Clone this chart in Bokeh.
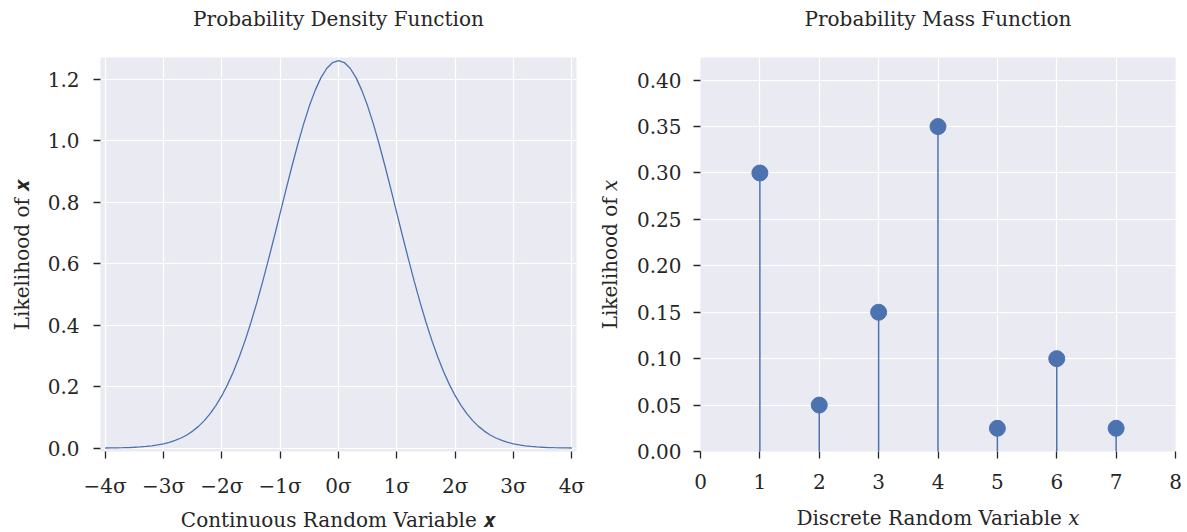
from bokeh.plotting import figure
from bokeh.layouts import row
from bokeh.models import FixedTicker, Range1d
from bokeh.embed import file_html
from bokeh.resources import INLINE

# ---- data ----
pdf_x = [-4.0, -3.9, -3.8, -3.7, -3.6, -3.5, -3.4, -3.3, -3.2, -3.1,
         -3.0, -2.9, -2.8, -2.7, -2.6, -2.5, -2.4, -2.3, -2.2, -2.1,
         -2.0, -1.9, -1.8, -1.7, -1.6, -1.5, -1.4, -1.3, -1.2, -1.1,
         -1.0, -0.9, -0.8, -0.7, -0.6, -0.5, -0.4, -0.3, -0.2, -0.1,
         0.0, 0.1, 0.2, 0.3, 0.4, 0.5, 0.6, 0.7, 0.8, 0.9,
         1.0, 1.1, 1.2, 1.3, 1.4, 1.5, 1.6, 1.7, 1.8, 1.9,
         2.0, 2.1, 2.2, 2.3, 2.4, 2.5, 2.6, 2.7, 2.8, 2.9,
         3.0, 3.1, 3.2, 3.3, 3.4, 3.5, 3.6, 3.7, 3.8, 3.9, 4.0]
pdf_y = [0.0004, 0.0006, 0.0009, 0.0013, 0.0019, 0.0028, 0.0039, 0.0054, 0.0075, 0.0103,
         0.0140, 0.0188, 0.0249, 0.0329, 0.0428, 0.0553, 0.0707, 0.0895, 0.1120, 0.1390,
         0.1705, 0.2072, 0.2494, 0.2970, 0.3503, 0.4091, 0.4729, 0.5413, 0.6134, 0.6881,
         0.7642, 0.8404, 0.9149, 0.9862, 1.0525, 1.1120, 1.1631, 1.2046, 1.2351, 1.2537,
         1.2600, 1.2537, 1.2351, 1.2046, 1.1631, 1.1120, 1.0525, 0.9862, 0.9149, 0.8404,
         0.7642, 0.6881, 0.6134, 0.5413, 0.4729, 0.4091, 0.3503, 0.2970, 0.2494, 0.2072,
         0.1705, 0.1390, 0.1120, 0.0895, 0.0707, 0.0553, 0.0428, 0.0329, 0.0249, 0.0188,
         0.0140, 0.0103, 0.0075, 0.0054, 0.0039, 0.0028, 0.0019, 0.0013, 0.0009, 0.0006, 0.0004]
pdf_xticks = [-4, -3, -2, -1, 0, 1, 2, 3, 4]
pdf_xlabels = ["\u22124\u03c3", "\u22123\u03c3", "\u22122\u03c3", "\u22121\u03c3", "0\u03c3",
               "1\u03c3", "2\u03c3", "3\u03c3", "4\u03c3"]
pdf_yticks = [0.0, 0.2, 0.4, 0.6, 0.8, 1.0, 1.2]
pdf_ylabels = ["0.0", "0.2", "0.4", "0.6", "0.8", "1.0", "1.2"]

pmf_x = [1, 2, 3, 4, 5, 6, 7]
pmf_y = [0.30, 0.05, 0.15, 0.35, 0.025, 0.10, 0.025]
pmf_xticks = [0, 1, 2, 3, 4, 5, 6, 7, 8]
pmf_yticks = [0.00, 0.05, 0.10, 0.15, 0.20, 0.25, 0.30, 0.35, 0.40]
pmf_ylabels = ["0.00", "0.05", "0.10", "0.15", "0.20", "0.25", "0.30", "0.35", "0.40"]

FONT = "DejaVu Serif"
FS = "20px"
BLUE = "#4c72b0"
BG = "#eaeaf2"
TXT = "#262626"
FH = 394


def style(p, title):
    p.background_fill_color = BG
    p.border_fill_color = "white"
    p.outline_line_color = None
    # trailing blank line lifts the title away from the frame
    p.title.text = title + "\n\u00a0"
    p.title.align = "center"
    p.title.text_font = FONT
    p.title.text_font_size = FS
    p.title.text_font_style = "normal"
    p.title.text_color = TXT
    p.title.standoff = 6
    for g in (p.xgrid, p.ygrid):
        g.grid_line_color = "white"
        g.grid_line_width = 1.2
    for ax in (p.xaxis, p.yaxis):
        ax.axis_line_color = None
        ax.major_tick_line_color = TXT
        ax.major_tick_line_width = 1.3
        ax.major_tick_out = 7
        ax.major_tick_in = 0
        ax.minor_tick_line_color = None
        ax.major_label_text_font = FONT
        ax.major_label_text_font_size = FS
        ax.major_label_text_color = TXT
        ax.axis_label_text_font = FONT
        ax.axis_label_text_font_size = FS
        ax.axis_label_text_font_style = "normal"
        ax.axis_label_text_color = TXT
    p.xaxis.major_label_standoff = 15


p1 = figure(frame_width=476, frame_height=FH, output_backend="svg", toolbar_location=None,
            x_range=Range1d(-4.08, 4.08), y_range=Range1d(-0.011, 1.27),
            min_border_left=100, min_border_right=18, min_border_top=57, min_border_bottom=75)
style(p1, "Probability Density Function")
p1.line(pdf_x, pdf_y, line_color=BLUE, line_width=1.3)
p1.xaxis.ticker = FixedTicker(ticks=pdf_xticks)
p1.xaxis.major_label_overrides = {t: l for t, l in zip(pdf_xticks, pdf_xlabels)}
p1.yaxis.ticker = FixedTicker(ticks=pdf_yticks)
p1.yaxis.major_label_overrides = {t: l for t, l in zip(pdf_yticks, pdf_ylabels)}
p1.xaxis.axis_label = "Continuous Random Variable \U0001D499"
p1.yaxis.axis_label = "Likelihood of \U0001D499"
p1.xaxis.axis_label_standoff = 7
p1.yaxis.major_label_standoff = 14
p1.yaxis.axis_label_standoff = 11

p2 = figure(frame_width=475, frame_height=FH, output_backend="svg", toolbar_location=None,
            x_range=Range1d(0, 8), y_range=Range1d(0, 0.4244),
            min_border_left=100, min_border_right=10, min_border_top=57, min_border_bottom=75)
style(p2, "Probability Mass Function")
p2.segment(x0=pmf_x, y0=[0] * len(pmf_x), x1=pmf_x, y1=pmf_y, line_color=BLUE, line_width=1.5)
p2.scatter(pmf_x, pmf_y, size=16, fill_color=BLUE, line_color=BLUE)
p2.xaxis.ticker = FixedTicker(ticks=pmf_xticks)
p2.yaxis.ticker = FixedTicker(ticks=pmf_yticks)
p2.yaxis.major_label_overrides = {t: l for t, l in zip(pmf_yticks, pmf_ylabels)}
p2.xaxis.axis_label = "Discrete Random Variable \U0001D465"
p2.yaxis.axis_label = "Likelihood of \U0001D465"
p2.xaxis.axis_label_standoff = 14
p2.yaxis.major_label_standoff = 12
p2.yaxis.axis_label_standoff = 12

layout = row(p1, p2)
open("out.html", "w").write(file_html(layout, INLINE))
